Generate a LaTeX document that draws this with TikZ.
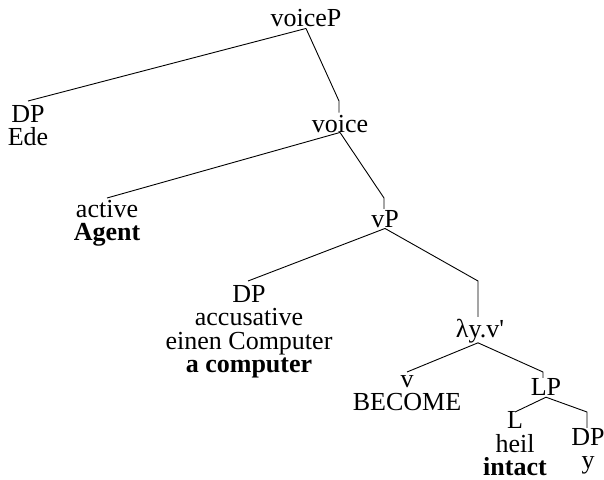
\documentclass[tikz,border=0pt]{standalone}
\usepackage{fontspec}
\setmainfont{Liberation Serif}[Ligatures=TeXOff]
\begin{document}
\begin{tikzpicture}[x=1pt, y=-1pt,
  lab/.style={anchor=base, inner sep=0pt, align=center,
              font=\fontsize{26}{23.5}\selectfont},
  branch/.style={line width=0.9pt, line join=round}]
\useasboundingbox (0,0) rectangle (604,479);

% tree nodes (positioned by the baseline of their last line)
\node[lab] (voiceP) at (306,26)    {voiceP};
\node[lab] (dpEde)  at (28,145.5)  {DP\\Ede};
\node[lab] (voice)  at (340,132)   {voice};
\node[lab] (active) at (107,240.5) {active\\\textbf{Agent}};
\node[lab] (vP)     at (385,227)   {vP};
\node[lab] (dpAcc)  at (249,372.5) {DP\\accusative\\einen Computer\\\textbf{a computer}};
\node[lab] (lam)    at (480,337)   {λy.v'};
\node[lab] (vB)     at (407,410.5) {v\\BECOME};
\node[lab] (LP)     at (546,395)   {LP};
\node[lab] (L)      at (515,475.5) {L\\heil\\\textbf{intact}};
\node[lab] (dpY)    at (588,468.5) {DP\\y};

% levels where the branches of each mother end
\coordinate (tierA) at (0,101);
\coordinate (tierB) at (0,198);
\coordinate (tierC) at (0,281);
\coordinate (tierD) at (0,372);
\coordinate (tierE) at (0,412);

% voiceP
\draw[branch] ([yshift=-2pt]voiceP.south) -- (dpEde.north |- tierA);
\draw[branch] ([yshift=-2pt]voiceP.south) -- ([xshift=-1pt]voice.north |- tierA)
              -- ([xshift=-1pt,yshift=2pt]voice.north);
% voice
\draw[branch] (voice.south) -- (active.north |- tierB);
\draw[branch] (voice.south) -- ([xshift=-1pt]vP.north |- tierB)
              -- ([xshift=-1pt,yshift=1pt]vP.north);
% vP
\draw[branch] ([yshift=-1pt]vP.south) -- ([xshift=-1pt]dpAcc.north |- tierC);
\draw[branch] ([yshift=-1pt]vP.south) -- ([xshift=-2pt]lam.north |- tierC)
              -- ([xshift=-2pt,yshift=1.5pt]lam.north);
% lambda y.v'
\draw[branch] ([xshift=-2pt]lam.south) -- (vB.north |- tierD);
\draw[branch] ([xshift=-2pt]lam.south) -- ([xshift=-3pt]LP.north |- tierD)
              -- ([xshift=-3pt]LP.north);
% LP
\draw[branch] ([yshift=-2pt]LP.south) -- (L.north |- tierE);
\draw[branch] ([yshift=-2pt]LP.south) -- ([xshift=-1pt]dpY.north |- tierE)
              -- ([xshift=-1pt]dpY.north);
\end{tikzpicture}
\end{document}
